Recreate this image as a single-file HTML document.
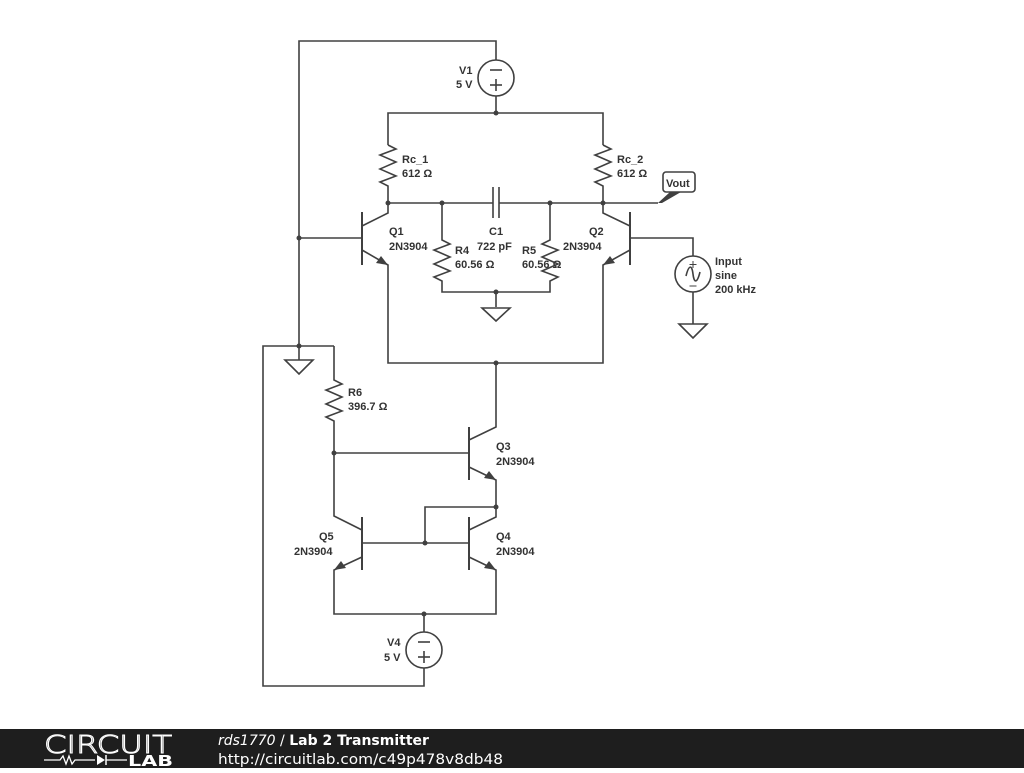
<!DOCTYPE html>
<html><head><style>
body{margin:0;width:1024px;height:768px;background:#fff;overflow:hidden;font-family:"Liberation Sans",sans-serif}
svg text{font-family:"Liberation Sans",sans-serif;font-size:11px;font-weight:bold;fill:#333}
</style></head><body>
<svg width="1024" height="768" viewBox="0 0 1024 768" xmlns="http://www.w3.org/2000/svg">
<g stroke="#404040" stroke-width="1.6" fill="none">
<polyline points="299,346 299,41 496,41 496,60"/>
<circle cx="496" cy="78" r="18"/>
<line x1="490" y1="70" x2="502" y2="70"/><line x1="490" y1="85" x2="502" y2="85"/><line x1="496" y1="79" x2="496" y2="91"/>
<line x1="496" y1="96" x2="496" y2="113"/>
<polyline points="388,145 388,113 603,113 603,145"/>
<polyline points="388,145 396,149 380,155 396,162 380,169 396,176 380,182 388,186 388,203"/>
<polyline points="603,145 611,149 595,155 611,162 595,169 611,176 595,182 603,186 603,203"/>
<line x1="388" y1="203" x2="493" y2="203"/><line x1="499" y1="203" x2="658" y2="203"/>
<line x1="493" y1="187" x2="493" y2="218"/><line x1="499" y1="187" x2="499" y2="218"/>
<line x1="362" y1="212" x2="362" y2="265" stroke-width="2"/>
<line x1="299" y1="238" x2="362" y2="238"/>
<polyline points="388,203 388,213 362,226"/>
<polyline points="362,250 388,265 388,363 603,363 603,265 630,250"/>
<line x1="630" y1="212" x2="630" y2="265" stroke-width="2"/>
<polyline points="603,203 603,213 630,226"/>
<polyline points="630,238 693,238 693,256"/>
<circle cx="693" cy="274" r="18"/>
<path d="M686,276 C689,264 692,265 693,274 C694,283 697,284 700,272"/>
<line x1="693" y1="292" x2="693" y2="324"/>
<polyline points="442,203 442,240 450,244 434,250 450,257 434,264 450,271 434,277 442,281 442,292 550,292 550,281 558,277 542,271 558,264 542,257 558,250 542,244 550,240 550,203"/>
<line x1="496" y1="292" x2="496" y2="307"/>
<polyline points="299,346 263,346 263,686 424,686 424,668"/>
<line x1="299" y1="346" x2="334" y2="346"/>
<line x1="299" y1="346" x2="299" y2="360"/>
<polyline points="334,346 334,380 342,384 326,390 342,397 326,404 342,411 326,417 334,421 334,516 362,530"/>
<line x1="334" y1="453" x2="469" y2="453"/>
<line x1="469" y1="427" x2="469" y2="480" stroke-width="2"/>
<polyline points="496,363 496,427 469,440"/>
<polyline points="469,467 496,480 496,517 469,530"/>
<polyline points="496,507 425,507 425,543"/>
<line x1="469" y1="517" x2="469" y2="570" stroke-width="2"/>
<line x1="362" y1="517" x2="362" y2="570" stroke-width="2"/>
<line x1="362" y1="543" x2="469" y2="543"/>
<polyline points="469,557 496,570 496,614 334,614 334,570 362,557"/>
<line x1="424" y1="614" x2="424" y2="632"/>
<circle cx="424" cy="650" r="18"/>
<line x1="418" y1="642" x2="430" y2="642"/><line x1="418" y1="657" x2="430" y2="657"/><line x1="424" y1="651" x2="424" y2="663"/>
<polygon points="482,308 510,308 496,321"/>
<polygon points="679,324 707,324 693,338"/>
<polygon points="285,360 313,360 299,374"/>
<rect x="663" y="172" width="32" height="20" rx="3"/>
<line x1="693" y1="261" x2="693" y2="268" stroke-width="1"/><line x1="689.5" y1="264.5" x2="696.5" y2="264.5" stroke-width="1"/>
<line x1="689.5" y1="286" x2="696.5" y2="286" stroke-width="1"/>
</g>
<path d="M658,203 L670,192 L681,192 L662,203 Z" fill="#404040"/>
<g fill="#404040">
<polygon points="388,265 376,263 381,256"/>
<polygon points="603,265 610,256 615,263"/>
<polygon points="496,480 484,478 489,471"/>
<polygon points="496,570 484,568 489,561"/>
<polygon points="334,570 341,561 346,568"/>
<circle cx="496" cy="113" r="2.5"/><circle cx="388" cy="203" r="2.5"/><circle cx="442" cy="203" r="2.5"/>
<circle cx="550" cy="203" r="2.5"/><circle cx="603" cy="203" r="2.5"/><circle cx="299" cy="238" r="2.5"/>
<circle cx="496" cy="292" r="2.5"/><circle cx="496" cy="363" r="2.5"/><circle cx="299" cy="346" r="2.5"/>
<circle cx="334" cy="453" r="2.5"/><circle cx="496" cy="507" r="2.5"/><circle cx="425" cy="543" r="2.5"/>
<circle cx="424" cy="614" r="2.5"/>
</g>
<text x="459" y="74">V1</text><text x="456" y="88">5 V</text>
<text x="402" y="163">Rc_1</text><text x="402" y="177">612 Ω</text>
<text x="617" y="163">Rc_2</text><text x="617" y="177">612 Ω</text>
<text x="666" y="187">Vout</text>
<text x="389" y="235">Q1</text><text x="389" y="250">2N3904</text>
<text x="489" y="235">C1</text><text x="477" y="250">722 pF</text>
<text x="455" y="254">R4</text><text x="455" y="268">60.56 Ω</text>
<text x="522" y="254">R5</text><text x="522" y="268">60.56 Ω</text>
<text x="589" y="235">Q2</text><text x="563" y="250">2N3904</text>
<text x="715" y="265">Input</text><text x="715" y="279">sine</text><text x="715" y="293">200 kHz</text>
<text x="348" y="396">R6</text><text x="348" y="410">396.7 Ω</text>
<text x="496" y="450">Q3</text><text x="496" y="465">2N3904</text>
<text x="496" y="540">Q4</text><text x="496" y="555">2N3904</text>
<text x="319" y="540">Q5</text><text x="294" y="555">2N3904</text>
<text x="387" y="646">V4</text><text x="384" y="661">5 V</text>
<rect x="0" y="729" width="1024" height="39" fill="#1e1e1e"/>
<text x="44" y="753" textLength="128" lengthAdjust="spacingAndGlyphs" style="font-family:'DejaVu Sans',sans-serif;font-size:25px;font-weight:200;fill:none;stroke:#fff;stroke-width:1">CIRCUIT</text>
<polyline points="44,760 60,760 63,756 66,764 69,756 72,764 75,760 95,760" stroke="#fff" stroke-width="1.3" fill="none"/>
<polygon points="97,755 97,765 105,760" fill="#fff"/><line x1="106" y1="755" x2="106" y2="765" stroke="#fff" stroke-width="1.5"/>
<line x1="106" y1="760" x2="127" y2="760" stroke="#fff" stroke-width="1.3"/>
<text x="128" y="766" textLength="45" lengthAdjust="spacingAndGlyphs" style="font-family:'DejaVu Sans',sans-serif;font-size:15px;font-weight:bold;fill:#fff">LAB</text>
<text x="218" y="745" style="font-family:'DejaVu Sans',sans-serif;font-size:14px;font-weight:normal;fill:#fff"><tspan font-style="italic">rds1770</tspan> / <tspan font-weight="bold">Lab 2 Transmitter</tspan></text>
<text x="218" y="764" textLength="285" lengthAdjust="spacingAndGlyphs" style="font-family:'DejaVu Sans',sans-serif;font-size:14px;font-weight:normal;fill:#fff">http://circuitlab.com/c49p478v8db48</text>
</svg>
</body></html>
